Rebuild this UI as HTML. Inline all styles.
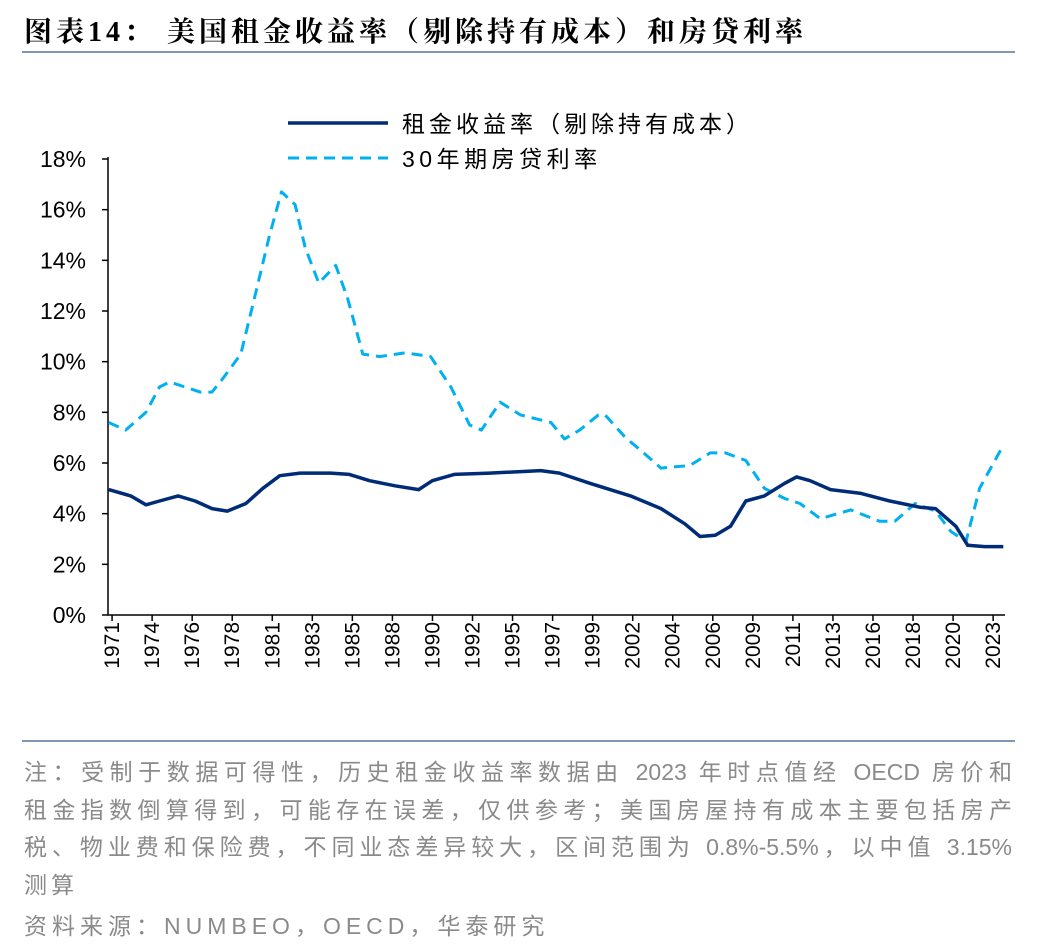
<!DOCTYPE html>
<html><head><meta charset="utf-8">
<style>
body{margin:0;background:#fff;width:1048px;height:952px;overflow:hidden;font-family:"Liberation Sans","Noto Sans CJK SC",sans-serif;}
.title{position:absolute;left:24px;top:10px;font-size:28px;font-weight:bold;font-family:"Liberation Serif","Noto Serif CJK SC",serif;color:#000;letter-spacing:4px;white-space:nowrap}
.hr{position:absolute;left:22px;width:993px;height:2px;background:#7f98b8}
.nl{position:absolute;left:24px;font-size:23px;color:#8a8a8a;width:988px;white-space:nowrap;text-align:justify;text-align-last:justify}
</style></head><body>
<div class="title">图表14：&nbsp;美国租金收益率（剔除持有成本）和房贷利率</div>
<div class="hr" style="top:51px"></div>
<svg id="chart" width="1048" height="740" style="position:absolute;left:0;top:0"></svg>
<div class="hr" style="top:740px"></div>
<div>
<div class="nl" style="top:753px">注：受制于数据可得性，历史租金收益率数据由 2023 年时点值经 OECD 房价和</div>
<div class="nl" style="top:791px">租金指数倒算得到，可能存在误差，仅供参考；美国房屋持有成本主要包括房产</div>
<div class="nl" style="top:828px">税、物业费和保险费，不同业态差异较大，区间范围为 0.8%-5.5%，以中值 3.15%</div>
<div class="nl" style="top:866px;text-align-last:left;letter-spacing:4px">测算</div>
</div>
<div class="nl" style="top:907px;text-align-last:left;letter-spacing:5px">资料来源：NUMBEO，OECD，华泰研究</div>
<script>
const rentYears=[1970.8,1972.1,1973.0,1973.8,1974.9,1975.9,1976.9,1977.8,1978.9,1979.9,1980.9,1982.1,1983.9,1985.0,1986.2,1987.7,1989.1,1989.9,1991.2,1993.3,1996.3,1997.4,1999.2,2001.6,2003.4,2004.8,2005.7,2006.6,2007.5,2008.4,2009.5,2010.7,2011.4,2012.2,2013.4,2015.2,2016.9,2018.7,2019.6,2020.8,2021.5,2022.5,2023.6];
const rentValues=[4.95,4.7,4.35,4.5,4.7,4.5,4.2,4.1,4.4,5.0,5.5,5.6,5.6,5.55,5.3,5.1,4.95,5.3,5.55,5.6,5.7,5.6,5.2,4.7,4.2,3.6,3.1,3.15,3.5,4.5,4.7,5.2,5.45,5.3,4.95,4.8,4.5,4.25,4.2,3.5,2.75,2.7,2.7];
const mortYears=[1970.8,1971.8,1973.0,1973.8,1974.4,1976.2,1976.9,1977.5,1978.6,1979.4,1980.3,1981.0,1981.8,1982.4,1983.2,1984.2,1984.9,1985.8,1986.8,1988.3,1989.8,1991.0,1992.1,1992.8,1993.9,1995.1,1996.9,1997.7,1998.6,1999.7,2000.1,2001.3,2002.2,2003.4,2005.1,2006.3,2007.2,2008.4,2009.5,2010.7,2011.6,2012.8,2014.6,2016.3,2017.2,2018.4,2019.6,2020.5,2021.4,2022.2,2023.6];
const mortValues=[7.6,7.3,8.0,9.0,9.2,8.8,8.8,9.3,10.3,12.5,15.0,16.7,16.2,14.5,13.1,13.8,12.5,10.3,10.2,10.35,10.2,9.0,7.5,7.3,8.4,7.9,7.6,6.95,7.3,7.9,7.9,7.0,6.5,5.8,5.9,6.4,6.4,6.1,5.0,4.6,4.4,3.8,4.15,3.7,3.7,4.4,4.1,3.3,2.9,5.0,6.7];
const yTicks=[0,2,4,6,8,10,12,14,16,18];
const xLabels=["1971","1974","1976","1978","1981","1983","1985","1988","1990","1992","1995","1997","1999","2002","2004","2006","2009","2011","2013","2016","2018","2020","2023"];
const NS="http://www.w3.org/2000/svg";
const svg=document.getElementById('chart');
const X0=108,X1=1005,Y0=615,Y18=159;
const yearMin=1970.76,yearMax=2023.7;
function xs(y){return X0+(y-yearMin)/(yearMax-yearMin)*(X1-X0);}
function ys(v){return Y0-v/18*(Y0-Y18);}
function mk(t,a){const e=document.createElementNS(NS,t);for(const k in a)e.setAttribute(k,a[k]);svg.appendChild(e);return e;}
let ax=mk('line',{x1:X0,y1:Y18-2,x2:X0,y2:Y0,stroke:'#000','stroke-width':1.5});

let bx=mk('line',{x1:X0,y1:Y0,x2:X1,y2:Y0,stroke:'#000','stroke-width':1.5});

yTicks.forEach(v=>{
 const y=ys(v);
 const tk=mk('line',{x1:X0-6,y1:y,x2:X0,y2:y,stroke:'#000','stroke-width':1.5});
 
 const t=mk('text',{x:86,y:y+8,'text-anchor':'end','font-size':23,fill:'#000'});
 t.textContent=v+'%';
 
});
xLabels.forEach((l,i)=>{
 const yr=1971+i*(2023-1971)/(xLabels.length-1);
 const x=xs(yr);
 const tk=mk('line',{x1:x,y1:Y0,x2:x,y2:Y0+6,stroke:'#000','stroke-width':1.5});
 
 const t=mk('text',{x:0,y:0,'text-anchor':'end','font-size':21,fill:'#000',transform:`translate(${x+7},${Y0+7}) rotate(-90)`});
 t.textContent=l;
 
});
function pts(ys_,vs){return ys_.map((y,i)=>xs(y).toFixed(1)+','+ys(vs[i]).toFixed(1)).join(' ');}
const m=mk('polyline',{points:pts(mortYears,mortValues),fill:'none',stroke:'#00b0f0','stroke-width':3,'stroke-dasharray':'11,7','stroke-linejoin':'round'});

const r=mk('polyline',{points:pts(rentYears,rentValues),fill:'none',stroke:'#002c77','stroke-width':3.5,'stroke-linejoin':'round'});

const l1=mk('line',{x1:288,y1:123,x2:388,y2:123,stroke:'#002c77','stroke-width':3.5});

const t1=mk('text',{x:402,y:132,'font-size':23,fill:'#000','letter-spacing':4});t1.textContent='租金收益率（剔除持有成本）';

const l2=mk('line',{x1:288,y1:158,x2:388,y2:158,stroke:'#00b0f0','stroke-width':3,'stroke-dasharray':'11,7'});

const t2=mk('text',{x:402,y:167,'font-size':23,fill:'#000','letter-spacing':4.5});t2.textContent='30年期房贷利率';

</script>
</body></html>
